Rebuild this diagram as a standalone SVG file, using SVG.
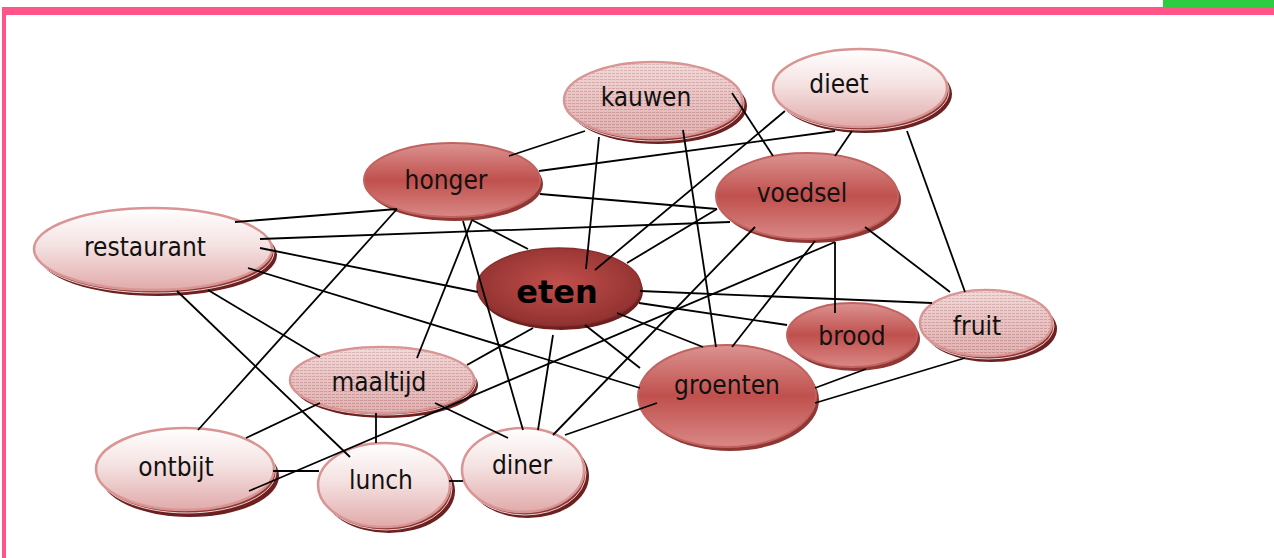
<svg xmlns="http://www.w3.org/2000/svg" width="1274" height="558" viewBox="0 0 1274 558">
<defs>
<linearGradient id="gLight" x1="0" y1="0" x2="0" y2="1">
<stop offset="0" stop-color="#ffffff"/>
<stop offset="0.45" stop-color="#f5e2e2"/>
<stop offset="1" stop-color="#e1aaaa"/>
</linearGradient>
<linearGradient id="gRed" x1="0" y1="0" x2="0" y2="1">
<stop offset="0" stop-color="#db9391"/>
<stop offset="0.5" stop-color="#c0504d"/>
<stop offset="1" stop-color="#d98886"/>
</linearGradient>
<radialGradient id="gEten" cx="0.5" cy="0.45" r="0.6">
<stop offset="0" stop-color="#c24f4c"/>
<stop offset="1" stop-color="#8c2f2d"/>
</radialGradient>
<pattern id="pTex" width="4" height="3" patternUnits="userSpaceOnUse">
<rect width="4" height="3" fill="#ebc6c6"/>
<rect y="1" width="3" height="1" fill="#cf9393"/>
</pattern>
<linearGradient id="gSheen" x1="0" y1="0" x2="0" y2="1">
<stop offset="0" stop-color="#ffffff" stop-opacity="0.35"/>
<stop offset="1" stop-color="#c77d7d" stop-opacity="0.25"/>
</linearGradient>
</defs>
<style>
.sh1{fill:#6e1f1f}
.sh2{fill:#8e3431;stroke:#ffffff;stroke-width:0.8}
.shr{fill:#8f3734}
.light{fill:url(#gLight);stroke:#d99594;stroke-width:2.5}
.red{fill:url(#gRed);stroke:#c2625f;stroke-width:2}
.tex{fill:url(#pTex);stroke:#d99594;stroke-width:2.5}
.sheen{fill:url(#gSheen)}
.eten{fill:url(#gEten);stroke:#8a2e2c;stroke-width:1.5}
.lbl{font-family:"DejaVu Sans Condensed","DejaVu Sans",sans-serif;font-size:26px;fill:#111;text-anchor:middle}
.big{font-family:"DejaVu Sans","Liberation Sans",sans-serif;font-size:32px;font-weight:bold;fill:#000;text-anchor:middle}
.cn line{stroke:#000;stroke-width:1.8}
</style>
<rect width="1274" height="558" fill="#ffffff"/>
<rect x="1163" y="0" width="111" height="7" fill="#2ecc40"/>
<rect x="2" y="7" width="1272" height="8" fill="#ff5588"/>
<rect x="2" y="7" width="4" height="551" fill="#ff5588"/>

<g id="kauwen">
<ellipse class="sh1" cx="658" cy="106" rx="89" ry="38"/>
<ellipse class="sh2" cx="655" cy="103" rx="89" ry="38"/>
<ellipse class="tex" cx="653" cy="100" rx="89" ry="38"/>
<ellipse class="sheen" cx="653" cy="100" rx="88" ry="37"/>
<text class="lbl" x="646" y="106">kauwen</text>
</g>
<g id="dieet">
<ellipse class="sh1" cx="865" cy="94" rx="87" ry="39"/>
<ellipse class="sh2" cx="862" cy="91" rx="87" ry="39"/>
<ellipse class="light" cx="860" cy="88" rx="87" ry="39"/>
<text class="lbl" x="839" y="93">dieet</text>
</g>
<g id="honger">
<ellipse class="shr" cx="455" cy="184" rx="88" ry="37"/>
<ellipse class="red" cx="452" cy="180" rx="88" ry="37"/>
<text class="lbl" x="446" y="189">honger</text>
</g>
<g id="voedsel">
<ellipse class="shr" cx="810" cy="200" rx="91" ry="43"/>
<ellipse class="red" cx="807" cy="196" rx="91" ry="43"/>
<text class="lbl" x="802" y="202">voedsel</text>
</g>
<g id="restaurant">
<ellipse class="sh1" cx="158" cy="255" rx="119" ry="41"/>
<ellipse class="sh2" cx="155" cy="252" rx="119" ry="41"/>
<ellipse class="light" cx="153" cy="249" rx="119" ry="41"/>
<text class="lbl" x="145" y="256">restaurant</text>
</g>
<g id="eten">
<ellipse class="sh1" cx="561" cy="291" rx="82" ry="39"/>
<ellipse class="eten" cx="559" cy="287" rx="82" ry="39"/>
<text class="big" x="557" y="303">eten</text>
</g>
<g id="brood">
<ellipse class="shr" cx="855" cy="339" rx="65" ry="32"/>
<ellipse class="red" cx="852" cy="335" rx="65" ry="32"/>
<text class="lbl" x="852" y="345">brood</text>
</g>
<g id="fruit">
<ellipse class="sh1" cx="991" cy="329" rx="66" ry="33"/>
<ellipse class="sh2" cx="988" cy="326" rx="66" ry="33"/>
<ellipse class="tex" cx="986" cy="323" rx="66" ry="33"/>
<ellipse class="sheen" cx="986" cy="323" rx="65" ry="32"/>
<text class="lbl" x="977" y="335">fruit</text>
</g>
<g id="maaltijd">
<ellipse class="sh1" cx="386" cy="385" rx="92" ry="33"/>
<ellipse class="sh2" cx="384" cy="382" rx="92" ry="33"/>
<ellipse class="tex" cx="382" cy="380" rx="92" ry="33"/>
<ellipse class="sheen" cx="382" cy="380" rx="91" ry="32"/>
<text class="lbl" x="379" y="391">maaltijd</text>
</g>
<g id="groenten">
<ellipse class="shr" cx="730" cy="400" rx="89" ry="51"/>
<ellipse class="red" cx="727" cy="396" rx="89" ry="51"/>
<text class="lbl" x="727" y="394">groenten</text>
</g>
<g id="ontbijt">
<ellipse class="sh1" cx="190" cy="476" rx="89" ry="41"/>
<ellipse class="sh2" cx="187" cy="472" rx="89" ry="41"/>
<ellipse class="light" cx="185" cy="469" rx="89" ry="41"/>
<text class="lbl" x="176" y="476">ontbijt</text>
</g>
<g id="lunch">
<ellipse class="sh1" cx="389" cy="491" rx="66" ry="42"/>
<ellipse class="sh2" cx="386" cy="488" rx="66" ry="42"/>
<ellipse class="light" cx="384" cy="485" rx="66" ry="42"/>
<text class="lbl" x="381" y="489">lunch</text>
</g>
<g id="diner">
<ellipse class="sh1" cx="528" cy="476" rx="61" ry="42"/>
<ellipse class="sh2" cx="525" cy="473" rx="61" ry="42"/>
<ellipse class="light" cx="523" cy="470" rx="61" ry="42"/>
<text class="lbl" x="522" y="474">diner</text>
</g>

<g id="connectors" class="cn">
<line x1="585" y1="131" x2="509" y2="156"/>
<line x1="599" y1="137" x2="586" y2="269"/>
<line x1="683" y1="130" x2="716" y2="347"/>
<line x1="732" y1="93" x2="773" y2="156"/>
<line x1="539" y1="171" x2="835" y2="131"/>
<line x1="785" y1="111" x2="595" y2="270"/>
<line x1="852" y1="131" x2="835" y2="156"/>
<line x1="907" y1="131" x2="965" y2="292"/>
<line x1="540" y1="194" x2="717" y2="209"/>
<line x1="472" y1="220" x2="528" y2="249"/>
<line x1="235" y1="222" x2="397" y2="209"/>
<line x1="397" y1="209" x2="198" y2="430"/>
<line x1="463" y1="221" x2="523" y2="430"/>
<line x1="472" y1="220" x2="417" y2="358"/>
<line x1="260" y1="239" x2="730" y2="222"/>
<line x1="260" y1="248" x2="478" y2="292"/>
<line x1="248" y1="268" x2="640" y2="388"/>
<line x1="208" y1="290" x2="320" y2="357"/>
<line x1="177" y1="291" x2="350" y2="457"/>
<line x1="717" y1="209" x2="627" y2="263"/>
<line x1="835" y1="242" x2="835" y2="313"/>
<line x1="865" y1="227" x2="950" y2="292"/>
<line x1="815" y1="241" x2="732" y2="347"/>
<line x1="755" y1="227" x2="553" y2="435"/>
<line x1="835" y1="242" x2="249" y2="491"/>
<line x1="533" y1="328" x2="467" y2="365"/>
<line x1="553" y1="335" x2="538" y2="430"/>
<line x1="617" y1="313" x2="703" y2="347"/>
<line x1="585" y1="325" x2="640" y2="368"/>
<line x1="639" y1="303" x2="787" y2="325"/>
<line x1="640" y1="291" x2="932" y2="303"/>
<line x1="376" y1="413" x2="376" y2="443"/>
<line x1="435" y1="403" x2="508" y2="438"/>
<line x1="320" y1="403" x2="246" y2="438"/>
<line x1="273" y1="471" x2="319" y2="471"/>
<line x1="449" y1="481" x2="463" y2="481"/>
<line x1="565" y1="435" x2="657" y2="403"/>
<line x1="815" y1="388" x2="866" y2="369"/>
<line x1="815" y1="403" x2="965" y2="358"/>
</g>
</svg>
